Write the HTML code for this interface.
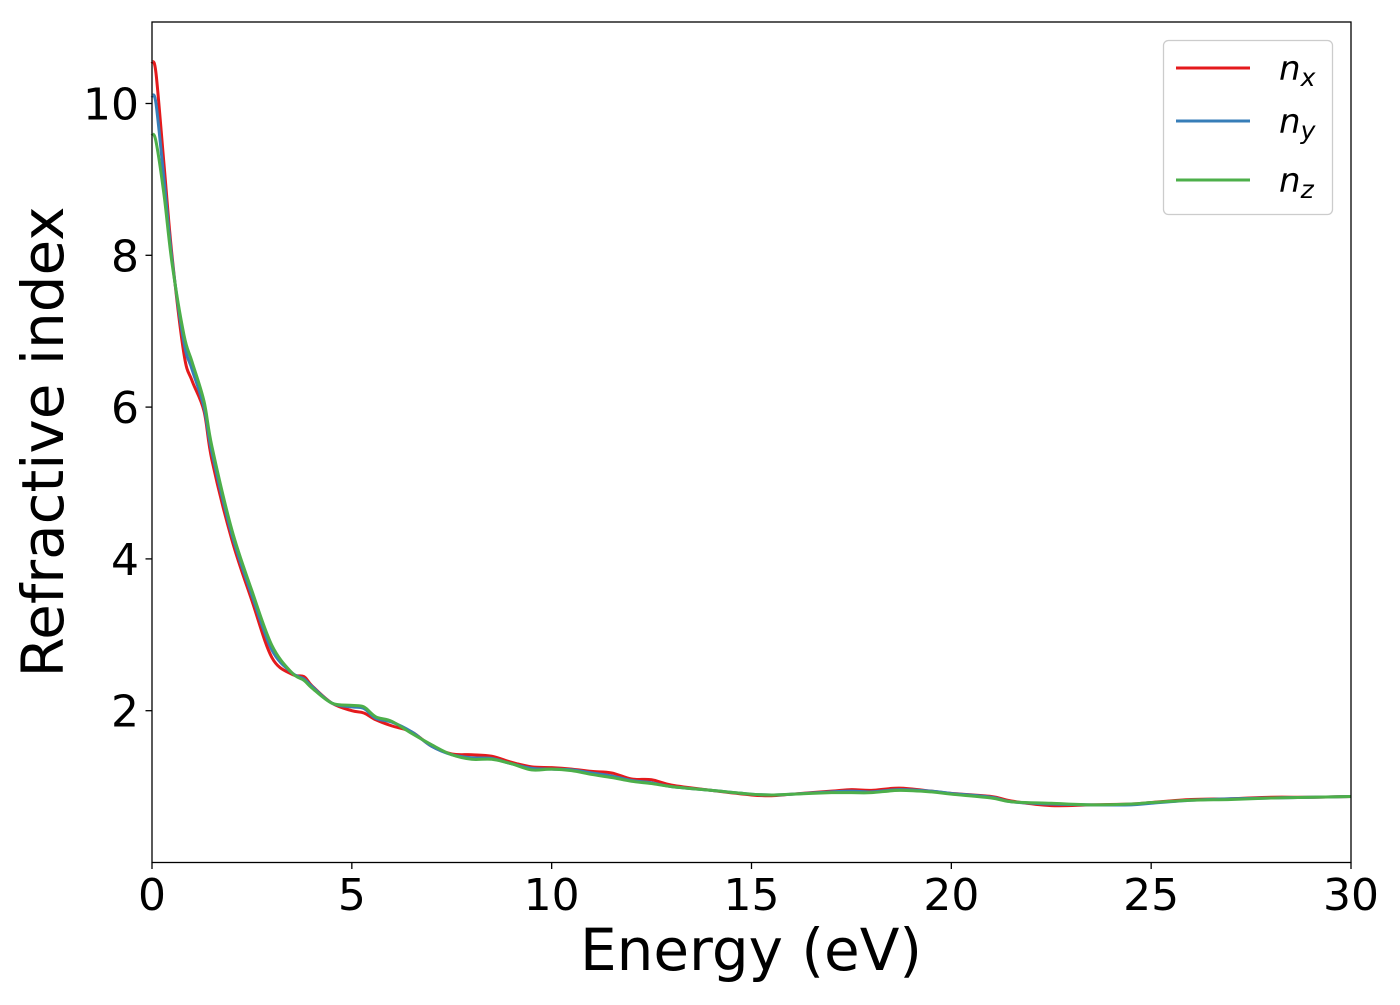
<!DOCTYPE html>
<html><head><meta charset="utf-8"><style>
body{margin:0;background:#fff}
svg text{font-family:"DejaVu Sans","Liberation Sans",sans-serif;fill:#000}
</style></head><body>
<svg id="chart" width="1400" height="1000" viewBox="0 0 1400 1000">
<g id="ticks"></g><g id="series"></g>
<rect x="152" y="22" width="1199" height="840.5" fill="none" stroke="#000" stroke-width="1.3"/>
<text x="751" y="970" font-size="58" text-anchor="middle">Energy (eV)</text>
<text transform="translate(63,442) rotate(-90)" font-size="58" text-anchor="middle">Refractive index</text>
<g>
<rect x="1163.5" y="40.5" width="169" height="174" rx="5" fill="#fff" stroke="#ccc" stroke-width="1.3"/>
<g><line x1="1176" y1="68" x2="1250" y2="68" stroke="#e41a1c" stroke-width="3"/><text x="1279" y="80" font-size="34" font-style="italic">n<tspan font-size="25" dy="6">x</tspan></text></g>
<g><line x1="1176" y1="121" x2="1250" y2="121" stroke="#377eb8" stroke-width="3"/><text x="1279" y="133" font-size="34" font-style="italic">n<tspan font-size="25" dy="6">y</tspan></text></g>
<g><line x1="1176" y1="180" x2="1250" y2="180" stroke="#4daf4a" stroke-width="3"/><text x="1279" y="192" font-size="34" font-style="italic">n<tspan font-size="25" dy="6">z</tspan></text></g>
</g>
</svg>
<script>
const energy=[0,0.1,0.3,0.5,0.8,1,1.3,1.5,2,2.5,3,3.5,3.8,4,4.5,5,5.3,5.6,6,6.5,7,7.5,8,8.5,9,9.5,10,10.5,11,11.5,12,12.5,13,14,15,15.5,16,17,17.5,18,18.7,19.5,20,21,21.5,22.5,23.5,24.5,25,26,27,28,29,30];
const nx=[10.55,10.4,9.2,8.0,6.7,6.35,5.95,5.3,4.25,3.45,2.7,2.48,2.45,2.33,2.1,2.0,1.97,1.88,1.8,1.72,1.53,1.43,1.42,1.4,1.32,1.26,1.25,1.23,1.2,1.18,1.1,1.09,1.02,0.95,0.89,0.88,0.9,0.94,0.96,0.95,0.98,0.94,0.91,0.87,0.81,0.75,0.76,0.77,0.79,0.83,0.84,0.86,0.86,0.87];
const ny=[10.1,10.0,9.0,7.95,6.85,6.5,6.0,5.4,4.32,3.52,2.8,2.5,2.42,2.32,2.1,2.05,2.03,1.9,1.85,1.72,1.53,1.42,1.38,1.37,1.3,1.24,1.23,1.22,1.18,1.14,1.08,1.05,1.0,0.95,0.9,0.89,0.9,0.93,0.94,0.93,0.96,0.94,0.91,0.86,0.8,0.77,0.76,0.76,0.78,0.82,0.84,0.85,0.86,0.87];
const nz=[9.6,9.5,8.8,7.9,6.95,6.6,6.08,5.48,4.38,3.58,2.86,2.5,2.4,2.3,2.1,2.07,2.05,1.92,1.86,1.7,1.55,1.42,1.36,1.36,1.3,1.22,1.23,1.21,1.16,1.12,1.07,1.04,1.0,0.95,0.9,0.89,0.9,0.92,0.92,0.92,0.95,0.93,0.9,0.85,0.8,0.78,0.76,0.77,0.79,0.82,0.83,0.85,0.86,0.87];
const xTicks=[0,5,10,15,20,25,30];
const yTicks=[2,4,6,8,10];
const X=v=>152+v*(1199/30);
const Y=v=>862.5-v*75.9;
const NS='http://www.w3.org/2000/svg';
const tg=document.getElementById('ticks');
function mk(t,a){const e=document.createElementNS(NS,t);for(const k in a)e.setAttribute(k,a[k]);return e;}
xTicks.forEach(t=>{
 const l=mk('line',{x1:X(t),x2:X(t),y1:862.5,y2:869,stroke:'#000','stroke-width':1.3});
 
 
 tg.appendChild(l);
 const s=mk('text',{x:X(t),y:910,'font-size':44,'text-anchor':'middle'});s.textContent=t;
 
 
 tg.appendChild(s);
});
yTicks.forEach(t=>{
 const l=mk('line',{x1:145.5,x2:152,y1:Y(t),y2:Y(t),stroke:'#000','stroke-width':1.3});
 
 
 tg.appendChild(l);
 const s=mk('text',{x:139,y:Y(t)+16,'font-size':44,'text-anchor':'end'});s.textContent=t;
 
 
 tg.appendChild(s);
});
function path(vals){
 const p=energy.map((e,i)=>[X(e),Y(vals[i])]);
 let d='M'+p[0][0]+','+p[0][1];
 for(let i=0;i<p.length-1;i++){
  const p0=p[Math.max(0,i-1)],p1=p[i],p2=p[i+1],p3=p[Math.min(p.length-1,i+2)];
  const c1=[p1[0]+(p2[0]-p0[0])/6,p1[1]+(p2[1]-p0[1])/6];
  const c2=[p2[0]-(p3[0]-p1[0])/6,p2[1]-(p3[1]-p1[1])/6];
  d+=`C${c1[0]},${c1[1]} ${c2[0]},${c2[1]} ${p2[0]},${p2[1]}`;
 }
 return d;
}
const sg=document.getElementById('series');
[[nx,'#e41a1c','series-nx'],[ny,'#377eb8','series-ny'],[nz,'#4daf4a','series-nz']].forEach(s=>{
 const e=mk('path',{d:path(s[0]),fill:'none',stroke:s[1],'stroke-width':3,'stroke-linejoin':'round'});
 
 
 sg.appendChild(e);
});
</script>
</body></html>
